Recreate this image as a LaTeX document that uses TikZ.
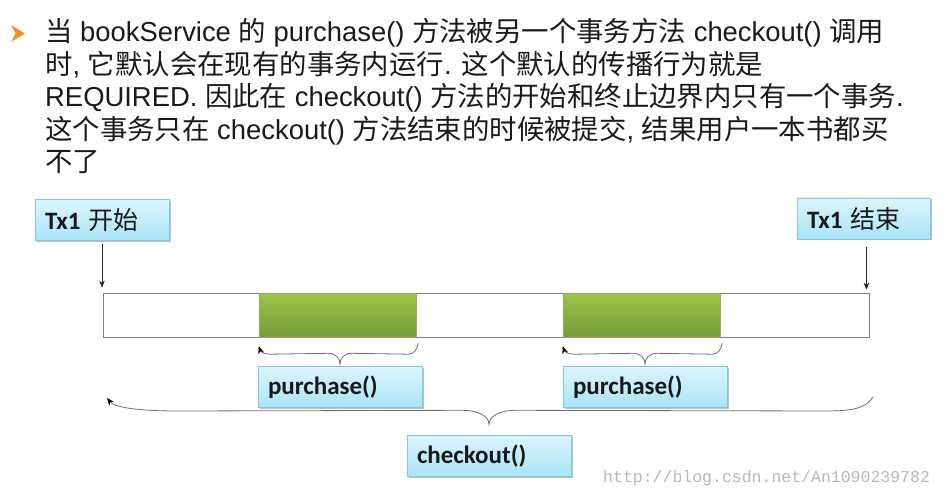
\documentclass[tikz,border=0pt]{standalone}
\usepackage{fontspec}
\setmainfont{Liberation Sans}
\newfontfamily\cjk{Noto Sans CJK SC}
\newfontfamily\lab{Carlito}
\newfontfamily\wm{Liberation Mono}
\newcommand{\zh}[1]{{\cjk #1}}
\newcommand{\zhm}[1]{{\cjk\mdseries #1}}
\usetikzlibrary{arrows.meta, calc, positioning, shadows}

\definecolor{txt}{HTML}{1A1A1A}
\definecolor{boxtop}{HTML}{DDF5FC}
\definecolor{boxbot}{HTML}{A8E4F7}
\definecolor{boxline}{HTML}{7FC8DF}
\definecolor{greentop}{HTML}{9EC64A}
\definecolor{greenbot}{HTML}{769A38}
\definecolor{barline}{HTML}{7F7F7F}
\definecolor{bracegray}{HTML}{6E6E6E}
\definecolor{bulletorange}{HTML}{F39323}

\tikzset{
  callout/.style={draw=boxline, top color=boxtop, bottom color=boxbot,
    minimum height=41pt, inner xsep=10pt, align=left, text=black!90,
    font=\lab\bfseries\fontsize{25}{28}\selectfont,
    drop shadow={shadow xshift=1.5pt, shadow yshift=-1.5pt, opacity=0.25, fill=black}},
  greenblk/.style={top color=greentop, bottom color=greenbot, draw=greenbot!80,
    line width=0.4pt, minimum width=157pt, minimum height=44pt, inner sep=0pt},
  textline/.style={anchor=base west, inner sep=0pt, text=txt,
    font=\fontsize{27.4}{32}\selectfont},
  varrow/.style={-{Stealth[length=7pt,width=5.5pt]}, line width=0.6pt, black!85},
  brc/.style={{Stealth[length=7.5pt,width=6pt,color=black]}-, line width=0.8pt, bracegray}
}

\begin{document}
\begin{tikzpicture}[x=1pt,y=-1pt]
        \useasboundingbox (0,0) rectangle (945,497);

        % 1. Bullet and text block
        \fill[bulletorange] (11,25) -- (25,33.5) -- (11,42) -- (15.5,33.5) -- cycle;
        \node[textline] (line1) at (45,42) {\zh{当} bookService \zh{的} purchase() \zh{方法被另一个事务方法} checkout() \zh{调用}};
        \node[textline] (line2) at (45,74.5) {\zh{时}, \zh{它默认会在现有的事务内运行}. \zh{这个默认的传播行为就是}};
        \node[textline] (line3) at (45,107) {REQUIRED. \zh{因此在} checkout() \zh{方法的开始和终止边界内只有一个事务}.};
        \node[textline] (line4) at (45,139.5) {\zh{这个事务只在} checkout() \zh{方法结束的时候被提交}, \zh{结果用户一本书都买}};
        \node[textline] (line5) at (45,172) {\zh{不了}};

        % 2. Transaction bar with the two purchase blocks
        \node[draw=barline, line width=0.8pt, minimum width=766pt, minimum height=44pt, inner sep=0pt] (bar) at (486,315) {};
        \node[greenblk] (g1) at (337.5,315) {};
        \node[greenblk] (g2) at (641.5,315) {};

        % 3. Begin / end callouts
        \node[callout, text width=114pt] (start) at (102,220) {Tx1 \zhm{开始}};
        \node[callout, text width=113pt] (fin) at (863.5,218.5) {Tx1 \zhm{结束}};
        \draw[varrow] ($(start.south)+(0,3)$) -- ($(start.south |- bar.north)+(0,-5)$);
        \draw[varrow] ($(bar.north east |- fin.south)+(-3,8)$) -- ($(bar.north east)+(-3,-3)$);

        % 4. Method labels
        \node[callout, text width=144pt] (p1) at (340,387) {purchase()};
        \node[callout, text width=144pt] (p2) at (645,387) {purchase()};
        \node[callout, text width=144pt] (co) at (489,456) {checkout()};

        % 5. Braces
        \coordinate (b1l) at ([yshift=-9pt]g1.south west);
        \coordinate (b1r) at ([xshift=2pt,yshift=-6pt]g1.south east);
        \coordinate (b2l) at ([yshift=-9pt]g2.south west);
        \coordinate (b2r) at ([xshift=2pt,yshift=-6pt]g2.south east);
        \coordinate (cl) at (107,398);
        \coordinate (cr) at (873,397);

        \draw[brc] (b1l) .. controls +(2,6) and +(-6,0) .. ++(12,8)
          -- ($(p1.north)+(-12,-13)$) .. controls +(8,0) and +(0,-6) .. ($(p1.north)+(0,-2)$)
          .. controls +(0,-6) and +(-8,0) .. ($(p1.north)+(12,-13)$)
          -- ($(b1r)+(-10,11)$) .. controls +(6,0) and +(-1,6) .. (b1r);
        \draw[brc] (b2l) .. controls +(2,6) and +(-6,0) .. ++(12,8)
          -- ($(p2.north)+(-12,-13)$) .. controls +(8,0) and +(0,-6) .. ($(p2.north)+(0,-2)$)
          .. controls +(0,-6) and +(-8,0) .. ($(p2.north)+(12,-13)$)
          -- ($(b2r)+(-10,11)$) .. controls +(6,0) and +(-1,6) .. (b2r);
        \draw[brc] (cl) .. controls +(8,10) and +(-35,0) .. ++(70,13)
          -- ($(co.north)+(-26,-25)$) .. controls +(15,0) and +(0,-8) .. ($(co.north)+(0,-11)$)
          .. controls +(0,-8) and +(-15,0) .. ($(co.north)+(26,-25)$)
          -- ($(cr)+(-45,14)$) .. controls +(30,0) and +(-6,9) .. (cr);

        % 6. Watermark
        \node[anchor=base west, inner sep=0pt, text=black!28, font=\wm\fontsize{16.5}{18}\selectfont] (mark) at (603,482) {http://blog.csdn.net/An1090239782};
\end{tikzpicture}
\end{document}
